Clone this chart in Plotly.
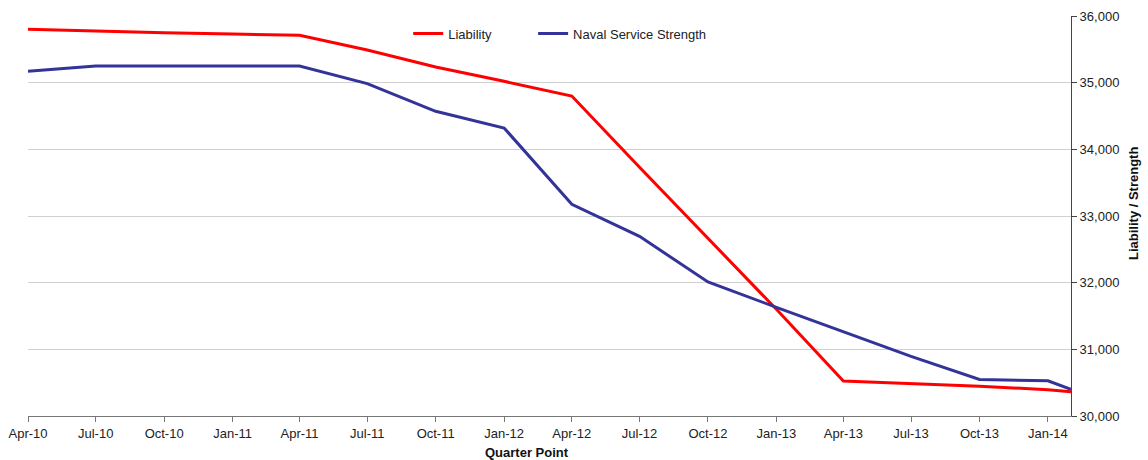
import plotly.graph_objects as go

# Data
dates = ["2010-04-01", "2010-07-01", "2010-10-01", "2011-01-01", "2011-04-01",
         "2011-07-01", "2011-10-01", "2012-01-01", "2012-04-01", "2012-07-01",
         "2012-10-01", "2013-01-01", "2013-04-01", "2013-07-01", "2013-10-01",
         "2014-01-01", "2014-02-01"]
liability = [35800, 35770, 35750, 35730, 35710, 35490, 35235, 35020, 34800,
             33730, 32660, 31600, 30525, 30490, 30445, 30395, 30365]
strength = [35170, 35250, 35250, 35250, 35250, 34985, 34570, 34320, 33175,
            32695, 32010, 31630, 31260, 30895, 30548, 30528, 30400]
tick_dates = dates[:16]
tick_labels = ["Apr-10", "Jul-10", "Oct-10", "Jan-11", "Apr-11", "Jul-11",
               "Oct-11", "Jan-12", "Apr-12", "Jul-12", "Oct-12", "Jan-13",
               "Apr-13", "Jul-13", "Oct-13", "Jan-14"]

FONT = "Liberation Sans, Arial, sans-serif"

fig = go.Figure()
fig.add_trace(go.Scatter(x=dates, y=liability, mode="lines", name="Liability",
                         line=dict(color="#FF0000", width=3), legend="legend"))
fig.add_trace(go.Scatter(x=dates, y=strength, mode="lines", name="Naval Service Strength",
                         line=dict(color="#333399", width=3), legend="legend2"))

leg_common = dict(orientation="h", xanchor="left", y=0.956, yanchor="middle",
                  bgcolor="rgba(0,0,0,0)", font=dict(size=13, color="#222222"))

fig.update_layout(
    width=1148, height=460,
    margin=dict(l=28, r=77, t=16, b=44, autoexpand=False),
    paper_bgcolor="white", plot_bgcolor="white",
    font=dict(family=FONT, size=13, color="#222222"),
    showlegend=True,
    legend=dict(x=0.3645, **leg_common),
    legend2=dict(x=0.4843, **leg_common),
    xaxis=dict(type="date", range=["2010-04-01", "2014-02-01"], automargin=False,
               tickmode="array", tickvals=tick_dates, ticktext=tick_labels,
               ticks="outside", ticklen=5, tickcolor="#777777",
               showline=True, linecolor="#777777", linewidth=1,
               showgrid=False, zeroline=False,
               tickfont=dict(size=13, color="#222222")),
    yaxis=dict(side="right", range=[30000, 36000], dtick=1000, tickformat=",",
               automargin=False,
               ticks="outside", ticklen=5, tickcolor="#444444",
               showline=True, linecolor="#444444", linewidth=1,
               showgrid=True, gridcolor="#D0D0D0", gridwidth=1, zeroline=False,
               tickfont=dict(size=13, color="#222222")),
)

fig.add_annotation(text="<b>Quarter Point</b>", xref="paper", yref="paper",
                   x=0.478, y=-0.091, xanchor="center", yanchor="middle",
                   showarrow=False, font=dict(size=13, color="#111111"))
fig.add_annotation(text="<b>Liability / Strength</b>", xref="paper", yref="paper",
                   x=1.0, xshift=62, y=0.53, xanchor="center", yanchor="middle",
                   textangle=-90, showarrow=False, font=dict(size=13, color="#111111"))

fig.write_html("out.html", config={"displayModeBar": False},
               post_script="document.body.style.margin='0';document.body.style.overflow='hidden';")
